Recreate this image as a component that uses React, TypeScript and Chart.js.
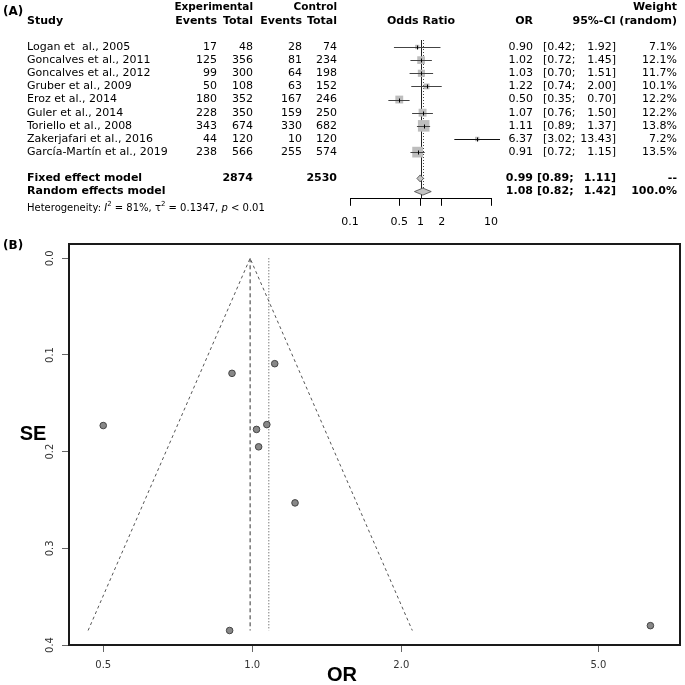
import React, { useEffect, useRef } from "react";
import { Chart, registerables } from "chart.js";
Chart.register(...registerables);
Chart.defaults.font.family = "'DejaVu Sans', sans-serif";

// ---- data ----
const studies = [
  "Logan et  al., 2005",
  "Goncalves et al., 2011",
  "Goncalves et al., 2012",
  "Gruber et al., 2009",
  "Eroz et al., 2014",
  "Guler et al., 2014",
  "Toriello et al., 2008",
  "Zakerjafari et al., 2016",
  "García-Martín et al., 2019",
];
const expEvents = [17, 125, 99, 50, 180, 228, 343, 44, 238];
const expTotal = [48, 356, 300, 108, 352, 350, 674, 120, 566];
const ctrlEvents = [28, 81, 64, 63, 167, 159, 330, 10, 255];
const ctrlTotal = [74, 234, 198, 152, 246, 250, 682, 120, 574];
const oddsRatio = [0.9, 1.02, 1.03, 1.22, 0.5, 1.07, 1.11, 6.37, 0.91];
const ciLower = [0.42, 0.72, 0.7, 0.74, 0.35, 0.76, 0.89, 3.02, 0.72];
const ciUpper = [1.92, 1.45, 1.51, 2.0, 0.7, 1.5, 1.37, 13.43, 1.15];
const weightRandom = [7.1, 12.1, 11.7, 10.1, 12.2, 12.2, 13.8, 7.2, 13.5];
const stdError = [0.385, 0.177, 0.195, 0.253, 0.173, 0.172, 0.109, 0.38, 0.119];

const totalExp = "2874";
const totalCtrl = "2530";
const fixedOR = 0.99, fixedLo = 0.89, fixedHi = 1.11;
const randomOR = 1.08, randomLo = 0.82, randomHi = 1.42;

const forestTicks = [0.1, 0.5, 1, 2, 10];
const funnelXTicks = [0.5, 1, 2, 5];
const funnelYTicks = [0, 0.1, 0.2, 0.3, 0.4];
const funnelMaxSE = 0.385;
const funnelLeftOR = 0.466;
const funnelRightOR = 2.105;

const FONT = "'DejaVu Sans', sans-serif";
const FS = 11;

function forestPlugin() {
  return {
    id: "forestText",
    beforeDatasetsDraw(chart: any) {
      const ctx = chart.ctx;
      const xs = chart.scales.x, ys = chart.scales.y;
      const ca = chart.chartArea;
      ctx.save();
      const x1 = Math.round(xs.getPixelForValue(1)) + 0.5;
      ctx.strokeStyle = "#222";
      ctx.lineWidth = 1;
      ctx.beginPath();
      ctx.moveTo(x1, ca.top);
      ctx.lineTo(x1, ca.bottom);
      ctx.stroke();
      const xr = Math.round(xs.getPixelForValue(randomOR)) + 0.5;
      ctx.setLineDash([1, 2]);
      ctx.strokeStyle = "#444";
      ctx.beginPath();
      ctx.moveTo(xr, ca.top);
      ctx.lineTo(xr, ys.getPixelForValue(11.3));
      ctx.stroke();
      ctx.restore();
    },
    afterDatasetsDraw(chart: any) {
      const ctx = chart.ctx;
      const xs = chart.scales.x, ys = chart.scales.y;
      ctx.save();
      for (let i = 0; i < oddsRatio.length; i++) {
        const y = Math.round(ys.getPixelForValue(i)) + 0.5;
        ctx.strokeStyle = i === 7 ? "#111" : "#444";
        ctx.lineWidth = 1;
        ctx.beginPath();
        ctx.moveTo(xs.getPixelForValue(ciLower[i]), y);
        ctx.lineTo(xs.getPixelForValue(ciUpper[i]), y);
        ctx.stroke();
        const xo = Math.round(xs.getPixelForValue(oddsRatio[i])) + 0.5;
        ctx.strokeStyle = "#000";
        ctx.beginPath();
        ctx.moveTo(xo, y - 2);
        ctx.lineTo(xo, y + 2);
        ctx.stroke();
      }
      const diamond = (row: number, est: number, lo: number, hi: number) => {
        const y = ys.getPixelForValue(row);
        const h = 3.5;
        ctx.beginPath();
        ctx.moveTo(xs.getPixelForValue(lo), y);
        ctx.lineTo(xs.getPixelForValue(est), y - h);
        ctx.lineTo(xs.getPixelForValue(hi), y);
        ctx.lineTo(xs.getPixelForValue(est), y + h);
        ctx.closePath();
        ctx.fillStyle = "#c4c4c4";
        ctx.fill();
        ctx.strokeStyle = "#444";
        ctx.lineWidth = 0.8;
        ctx.stroke();
      };
      diamond(10, fixedOR, fixedLo, fixedHi);
      diamond(11, randomOR, randomLo, randomHi);
      ctx.restore();
    },
    afterDraw(chart: any) {
      const ctx = chart.ctx;
      const ys = chart.scales.y;
      const Y = (r: number) => ys.getPixelForValue(r);
      ctx.save();
      ctx.fillStyle = "#000";
      ctx.textBaseline = "middle";
      const t = (s: string, x: number, y: number, align: string, bold = false, size = FS) => {
        ctx.font = `${bold ? "bold " : ""}${size}px ${FONT}`;
        ctx.textAlign = align;
        ctx.fillText(s, x, y);
      };
      t("(A)", 3, 12, "left", true, 12);
      t("Study", 27, Y(-2), "left", true);
      t("Experimental", 253, Y(-3), "right", true, 10.5);
      t("Events", 217, Y(-2), "right", true);
      t("Total", 253, Y(-2), "right", true);
      t("Control", 337, Y(-3), "right", true, 10.5);
      t("Events", 302, Y(-2), "right", true);
      t("Total", 337, Y(-2), "right", true);
      t("Odds Ratio", 421, Y(-2), "center", true);
      t("OR", 533, Y(-2), "right", true);
      t("Weight", 677, Y(-3), "right", true);
      t("95%-CI (random)", 677, Y(-2), "right", true);
      for (let i = 0; i < studies.length; i++) {
        const y = Y(i);
        t(studies[i], 27, y, "left");
        t(String(expEvents[i]), 217, y, "right");
        t(String(expTotal[i]), 253, y, "right");
        t(String(ctrlEvents[i]), 302, y, "right");
        t(String(ctrlTotal[i]), 337, y, "right");
        t(oddsRatio[i].toFixed(2), 533, y, "right");
        t("[" + ciLower[i].toFixed(2) + ";", 543, y, "left");
        t(ciUpper[i].toFixed(2) + "]", 616, y, "right");
        t(weightRandom[i].toFixed(1) + "%", 677, y, "right");
      }
      let y = Y(10);
      t("Fixed effect model", 27, y, "left", true);
      t(totalExp, 253, y, "right", true);
      t(totalCtrl, 337, y, "right", true);
      t(fixedOR.toFixed(2), 533, y, "right", true);
      t("[" + fixedLo.toFixed(2) + ";", 537, y, "left", true);
      t(fixedHi.toFixed(2) + "]", 616, y, "right", true);
      t("--", 677, y, "right", true);
      y = Y(11);
      t("Random effects model", 27, y, "left", true);
      t(randomOR.toFixed(2), 533, y, "right", true);
      t("[" + randomLo.toFixed(2) + ";", 537, y, "left", true);
      t(randomHi.toFixed(2) + "]", 616, y, "right", true);
      t("100.0%", 677, y, "right", true);
      // heterogeneity
      y = Y(12.3);
      const sz = 10;
      const pieces: [string, string][] = [
        ["Heterogeneity: ", "n"], ["I", "i"], ["2", "s"], [" = 81%, τ", "n"], ["2", "s"],
        [" = 0.1347, ", "n"], ["p", "i"], [" < 0.01", "n"],
      ];
      let x = 27;
      ctx.textAlign = "left";
      for (const [s, k] of pieces) {
        if (k === "s") {
          ctx.font = `${sz * 0.7}px ${FONT}`;
          ctx.fillText(s, x, y - 4);
        } else {
          ctx.font = `${k === "i" ? "italic " : ""}${sz}px ${FONT}`;
          ctx.fillText(s, x, y);
        }
        x += ctx.measureText(s).width;
      }
      ctx.restore();
    },
  };
}

function funnelPlugin() {
  return {
    id: "funnelDecor",
    afterDraw(chart: any) {
      const ctx = chart.ctx;
      const ca = chart.chartArea;
      const ys = chart.scales.y;
      ctx.save();
      ctx.strokeStyle = "#1a1a1a";
      ctx.lineWidth = 2;
      ctx.strokeRect(ca.left, ca.top, ca.right - ca.left, ca.bottom - ca.top);
      ctx.fillStyle = "#333";
      ctx.font = `10px ${FONT}`;
      ctx.textAlign = "center";
      ctx.textBaseline = "middle";
      for (const v of funnelYTicks) {
        const y = ys.getPixelForValue(v);
        ctx.save();
        ctx.translate(50, y);
        ctx.rotate(-Math.PI / 2);
        ctx.fillText(v.toFixed(1), 0, 0);
        ctx.restore();
      }
      ctx.fillStyle = "#000";
      ctx.font = `bold 12px ${FONT}`;
      ctx.textAlign = "left";
      ctx.fillText("(B)", 3, 11);
      ctx.font = `bold 20px 'Liberation Sans', sans-serif`;
      ctx.textAlign = "center";
      ctx.fillText("SE", 33, 199);
      ctx.fillText("OR", 342, 440);
      ctx.restore();
    },
  };
}

export default function App() {
  const forestRef = useRef<HTMLCanvasElement>(null);
  const funnelRef = useRef<HTMLCanvasElement>(null);

  useEffect(() => {
    const forest = new Chart(forestRef.current as HTMLCanvasElement, {
      type: "scatter",
      data: {
        datasets: [
          {
            data: oddsRatio.map((v, i) => ({ x: v, y: i })),
            pointStyle: "rect",
            pointRadius: stdError.map((s) => (1.5 + 1.1 / s) / Math.SQRT2),
            backgroundColor: "#bdbdbd",
            borderWidth: 0,
            clip: false,
          } as any,
        ],
      },
      options: {
        animation: false,
        responsive: false,
        events: [],
        layout: { padding: { left: 350, right: 194, top: 40, bottom: 0 } },
        plugins: { legend: { display: false }, tooltip: { enabled: false } },
        scales: {
          x: {
            type: "logarithmic",
            min: 0.1,
            max: 10,
            afterBuildTicks: (s: any) => {
              s.ticks = forestTicks.map((v) => ({ value: v }));
            },
            ticks: {
              callback: (v: any) => String(v),
              font: { size: FS, family: FONT },
              color: "#000",
              padding: 10,
              maxRotation: 0,
              autoSkip: false,
            },
            grid: { drawOnChartArea: false, drawTicks: true, tickLength: 7, color: "#000" },
            border: { display: true, color: "#000" },
          },
          y: { type: "linear", display: false, reverse: true, min: -0.53, max: 11.55 },
        },
      } as any,
      plugins: [forestPlugin()],
    });

    const funnel = new Chart(funnelRef.current as HTMLCanvasElement, {
      type: "scatter",
      data: {
        datasets: [
          {
            data: oddsRatio.map((v, i) => ({ x: v, y: stdError[i] })),
            pointRadius: 3.3,
            backgroundColor: "#888",
            borderColor: "#444",
            borderWidth: 1,
          },
          {
            type: "line",
            data: [
              { x: funnelLeftOR, y: funnelMaxSE },
              { x: fixedOR, y: 0 },
              { x: funnelRightOR, y: funnelMaxSE },
            ],
            borderColor: "#555",
            borderWidth: 1,
            borderDash: [3, 3],
            pointRadius: 0,
            fill: false,
          },
          {
            type: "line",
            data: [
              { x: fixedOR, y: 0 },
              { x: fixedOR, y: funnelMaxSE },
            ],
            borderColor: "#333",
            borderWidth: 1,
            borderDash: [4, 3],
            pointRadius: 0,
            fill: false,
          },
          {
            type: "line",
            data: [
              { x: randomOR, y: 0 },
              { x: randomOR, y: funnelMaxSE },
            ],
            borderColor: "#444",
            borderWidth: 1,
            borderDash: [1, 2],
            pointRadius: 0,
            fill: false,
          },
        ] as any,
      },
      options: {
        animation: false,
        responsive: false,
        events: [],
        layout: { padding: { left: 62, right: 5, top: 9, bottom: 6 } },
        plugins: { legend: { display: false }, tooltip: { enabled: false } },
        scales: {
          x: {
            type: "logarithmic",
            min: 0.4264,
            max: 7.31,
            afterBuildTicks: (s: any) => {
              s.ticks = funnelXTicks.map((v) => ({ value: v }));
            },
            ticks: {
              callback: (v: any) => Number(v).toFixed(1),
              font: { size: 10, family: FONT },
              color: "#333",
              padding: 7.5,
              maxRotation: 0,
              autoSkip: false,
            },
            grid: { drawOnChartArea: false, drawTicks: true, tickLength: 7, color: "#666" },
            border: { display: false },
          },
          y: {
            type: "linear",
            reverse: true,
            min: -0.0148,
            max: 0.4,
            afterBuildTicks: (s: any) => {
              s.ticks = funnelYTicks.map((v) => ({ value: v }));
            },
            ticks: { display: false },
            grid: { drawOnChartArea: false, drawTicks: true, tickLength: 7, color: "#666" },
            border: { display: false },
          },
        },
      } as any,
      plugins: [funnelPlugin()],
    });

    return () => {
      forest.destroy();
      funnel.destroy();
    };
  }, []);

  return (
    <div style={{ position: "absolute", left: 0, top: 0, width: 685, height: 685, background: "#fff" }}>
      <canvas ref={forestRef} width={685} height={239} style={{ position: "absolute", left: 0, top: 0 }} />
      <canvas ref={funnelRef} width={685} height={450} style={{ position: "absolute", left: 0, top: 235 }} />
    </div>
  );
}
